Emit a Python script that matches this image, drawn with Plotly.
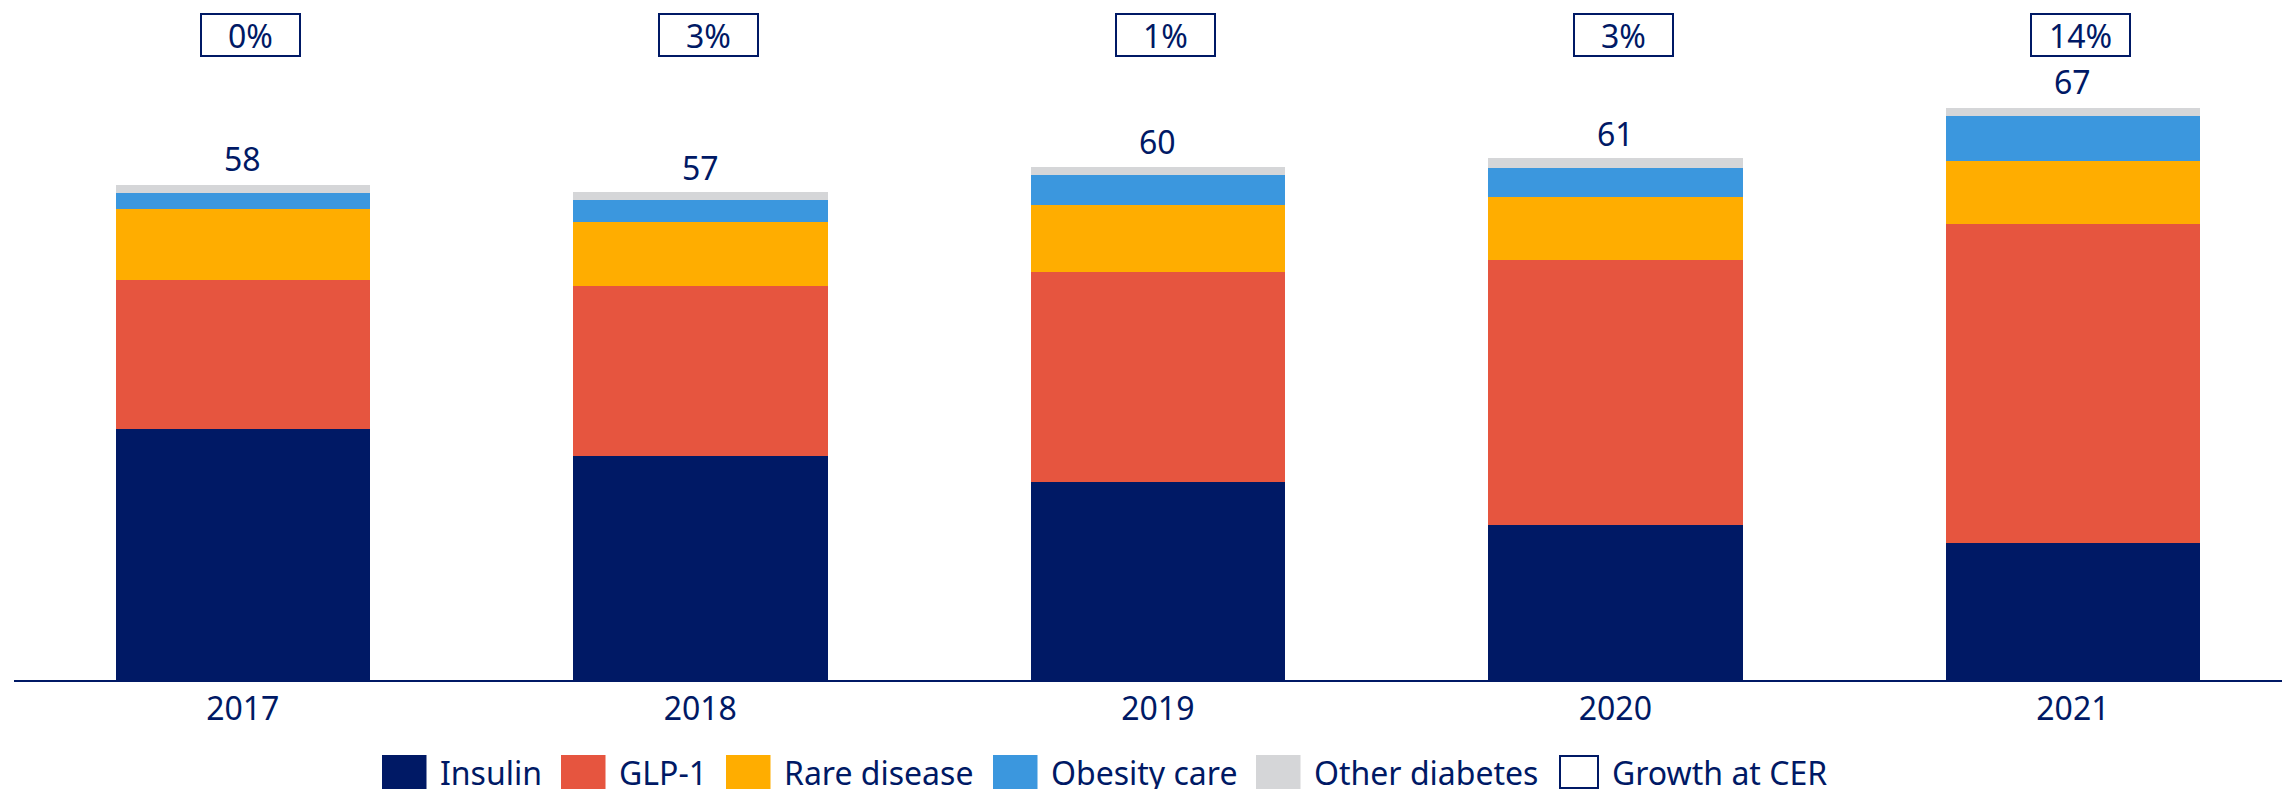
import plotly.graph_objects as go

# ---- data ----
years = ["2017", "2018", "2019", "2020", "2021"]
insulin = [29.3, 26.2, 23.1, 18.1, 16.0]
glp1 = [17.5, 19.9, 24.6, 31.0, 37.3]
rare_disease = [8.2, 7.4, 7.8, 7.3, 7.4]
obesity_care = [1.9, 2.6, 3.55, 3.46, 5.2]
other_diabetes = [1.0, 0.95, 0.9, 1.17, 1.0]
totals = [58, 57, 60, 61, 67]
growth_labels = ["0%", "3%", "1%", "3%", "14%"]

series_names = ["Insulin", "GLP-1", "Rare disease", "Obesity care", "Other diabetes"]
series_values = [insulin, glp1, rare_disease, obesity_care, other_diabetes]
series_colors = ["#001965", "#E6553F", "#FFAD00", "#3B97DE", "#D5D6D8"]
growth_name = "Growth at CER"

NAVY = "#001965"
FONT = "Noto Sans"
W, H = 2282, 792
ML, MR, MT, MB = 14, 0, 0, 112
PW, PH = W - ML - MR, H - MT - MB

fig = go.Figure()
for name, vals, col in zip(series_names, series_values, series_colors):
    fig.add_trace(go.Bar(x=years, y=vals, name=name, marker=dict(color=col, line=dict(width=0)),
                         showlegend=False, hoverinfo="x+y+name"))

annotations = []
# totals above bars (category axis -> use category index)
for i, tot in enumerate(totals):
    annotations.append(dict(x=i, y=tot, xref="x", yref="y", text=str(tot), showarrow=False,
                            yanchor="middle", yshift=25, font=dict(family=FONT, size=32, color=NAVY)))
# growth boxes
box_y = (PH - 34.5) / PH
for i, g in enumerate(growth_labels):
    annotations.append(dict(x=i, y=box_y, xref="x", yref="paper", text=g, showarrow=False,
                            xshift=8, yanchor="middle", width=97, height=40, borderpad=0,
                            bordercolor=NAVY, borderwidth=2, bgcolor="white",
                            font=dict(family=FONT, size=32, color=NAVY)))

# custom legend (big swatches)
def px_to_paper_x(px):
    return (px - ML) / PW

def px_to_paper_y(py):
    return (PH - (py - MT)) / PH

legend_swatch_left = [382, 561, 726, 993, 1256, 1559]
sw_w, sw_h = 44.5, 34
sw_top = 755
shapes = []
leg_names = series_names + [growth_name]
leg_colors = series_colors + ["white"]
for i, (nm, col) in enumerate(zip(leg_names, leg_colors)):
    x0 = legend_swatch_left[i]
    hollow = i >= len(series_names)
    w = 40 if hollow else sw_w
    inset = 1 if hollow else 0
    shapes.append(dict(type="rect", xref="paper", yref="paper",
                       x0=px_to_paper_x(x0 + inset), x1=px_to_paper_x(x0 + w - inset),
                       y0=px_to_paper_y(sw_top + inset), y1=px_to_paper_y(sw_top + sw_h - inset),
                       fillcolor=col, line=dict(width=2 if hollow else 0, color=NAVY)))
    annotations.append(dict(x=px_to_paper_x(x0 + w + 11), y=px_to_paper_y(sw_top + sw_h / 2),
                            xref="paper", yref="paper", text=nm, showarrow=False,
                            xanchor="left", yanchor="middle", height=34, valign="middle",
                            font=dict(family=FONT, size=32, color=NAVY)))

fig.update_layout(
    barmode="stack",
    bargap=0.444,
    width=W, height=H,
    margin=dict(l=ML, r=MR, t=MT, b=MB, pad=0),
    paper_bgcolor="white", plot_bgcolor="white",
    font=dict(family=FONT, size=32, color=NAVY),
    showlegend=False,
    annotations=annotations,
    shapes=shapes,
    xaxis=dict(type="category", range=[-0.5, 4.457], showline=True, linecolor=NAVY, linewidth=2,
               ticks="", showgrid=False, zeroline=False,
               tickfont=dict(family=FONT, size=32, color=NAVY)),
    yaxis=dict(range=[0, PH / 8.557], visible=False, showgrid=False, zeroline=False),
)

fig.write_html("out.html", config={"displayModeBar": False})
